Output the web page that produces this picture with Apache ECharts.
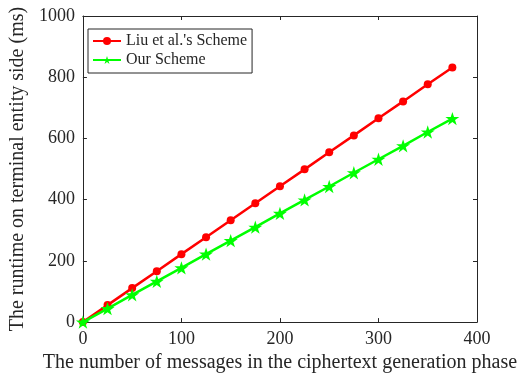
<!DOCTYPE html>
<html><head><meta charset="utf-8">
<script src="https://cdn.jsdelivr.net/npm/echarts@6/dist/echarts.min.js"></script>
<style>html,body{margin:0;padding:0;background:#fff}#c{width:528px;height:378px}</style>
</head><body><div id="c"></div>
<script>
const xValues = [0, 25, 50, 75, 100, 125, 150, 175, 200, 225, 250, 275, 300, 325, 350, 375];
const liuValues = [0, 55.5, 111, 166, 222, 277, 333, 388, 444, 499, 555, 610, 666, 721, 777, 832];
const ourValues = [0, 44, 89, 133, 177, 222, 266, 310, 355, 399, 443, 488, 532, 576, 621, 665];
const seriesNames = ["Liu et al.'s Scheme", "Our Scheme"];
const xTitle = "The number of messages in the ciphertext generation phase";
const yTitle = "The runtime on terminal entity side (ms)";

const font = "Liberation Serif";
const axisColor = '#262626';
const star = 'path://M0,-1 L0.225,-0.309 L0.951,-0.309 L0.363,0.118 L0.588,0.809 L0,0.382 L-0.588,0.809 L-0.363,0.118 L-0.951,-0.309 L-0.225,-0.309 Z';

const chart = echarts.init(document.getElementById('c'), null, {renderer: 'canvas'});
const baseAxis = {
  axisLine: {show: true, onZero: false, lineStyle: {color: axisColor, width: 1}},
  axisTick: {show: true, inside: true, length: 4, lineStyle: {color: axisColor}},
  splitLine: {show: false},
  axisLabel: {color: axisColor, fontFamily: font, fontSize: 18, formatter: v => String(v)}
};
chart.setOption({
  animation: false,
  backgroundColor: '#fff',
  grid: {left: 78, top: 16, right: 51, bottom: 54, containLabel: false},
  legend: {
    orient: 'vertical', left: 88, top: 29,
    backgroundColor: '#fff', borderColor: axisColor, borderWidth: 1,
    padding: [4, 5, 5, 4], itemGap: 3, itemWidth: 28, itemHeight: 10,
    textStyle: {fontFamily: font, fontSize: 16, color: axisColor},
    data: seriesNames
  },
  xAxis: [
    Object.assign({}, baseAxis, {type: 'value', min: 0, max: 400, interval: 100, position: 'bottom',
      name: xTitle, nameLocation: 'middle', nameGap: 29,
      nameTextStyle: {fontFamily: font, fontSize: 20, color: axisColor}}),
    Object.assign({}, baseAxis, {type: 'value', min: 0, max: 400, interval: 100, position: 'top',
      axisLabel: {show: false}})
  ],
  yAxis: [
    Object.assign({}, baseAxis, {type: 'value', min: 0, max: 1000, interval: 200, position: 'left',
      name: yTitle, nameLocation: 'middle', nameGap: 46,
      nameTextStyle: {fontFamily: font, fontSize: 20, color: axisColor}}),
    Object.assign({}, baseAxis, {type: 'value', min: 0, max: 1000, interval: 200, position: 'right',
      axisLabel: {show: false}})
  ],
  series: [
    {name: seriesNames[0], type: 'line', data: xValues.map((x, i) => [x, liuValues[i]]),
      color: '#ff0000', lineStyle: {width: 2.5, color: '#ff0000'},
      symbol: 'circle', symbolSize: 8, itemStyle: {color: '#ff0000'}, z: 2},
    {name: seriesNames[1], type: 'line', data: xValues.map((x, i) => [x, ourValues[i]]),
      color: '#00ff00', lineStyle: {width: 2.5, color: '#00ff00'},
      symbol: star, symbolSize: 14, symbolKeepAspect: true, itemStyle: {color: '#00ff00'}, z: 3}
  ]
});
</script></body></html>
